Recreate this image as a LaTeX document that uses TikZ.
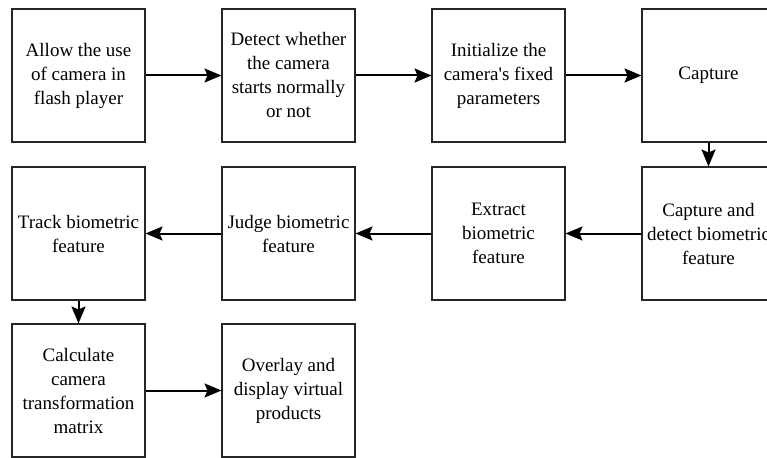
\documentclass[tikz,border=0pt]{standalone}
\usepackage{fontspec}
\setmainfont{Liberation Serif}[Ligatures=TeXOff]
\usetikzlibrary{arrows.meta}
\begin{document}
\begin{tikzpicture}[x=1pt,y=-1pt,
  stepbox/.style={draw=black!85,line width=2pt,minimum width=133pt,minimum height=133pt,
    anchor=north west,inner sep=0pt,align=center,
    font=\fontsize{19}{24}\selectfont},
  flow/.style={draw=black,line width=2pt,-{Stealth[length=17pt,width=14pt,inset=3pt]},shorten >=-0.5pt}]
\useasboundingbox (0,0) rectangle (767,457);
\clip (0,0) rectangle (767,457);
% first row
\node[stepbox] (allow) at (11,8) {Allow the use\\of camera in\\flash player};
\node[stepbox] (detect) at (221,8) {Detect whether\\the camera\\starts normally\\or not};
\node[stepbox] (init) at (431,8) {Initialize the\\camera's fixed\\parameters};
\node[stepbox] (capture) at (641,8) {Capture};
% second row
\node[stepbox] (capdet) at (641,166) {Capture and\\detect biometric\\feature};
\node[stepbox] (extract) at (431,166) {Extract\\biometric\\feature};
\node[stepbox] (judge) at (221,166) {Judge biometric\\feature};
\node[stepbox] (track) at (11,166) {Track biometric\\feature};
% third row
\node[stepbox] (calc) at (11,323) {Calculate\\camera\\transformation\\matrix};
\node[stepbox] (overlay) at (221,323) {Overlay and\\display virtual\\products};
% connectors
\draw[flow] (allow) -- (detect);
\draw[flow] (detect) -- (init);
\draw[flow] (init) -- (capture);
\draw[flow] (capture.south) -- (capdet.north);
\draw[flow] (capdet.west) -- (extract.east);
\draw[flow] (extract) -- (judge);
\draw[flow] (judge) -- (track);
\draw[flow] (track) -- (calc);
\draw[flow] (calc) -- (overlay);
\end{tikzpicture}
\end{document}
